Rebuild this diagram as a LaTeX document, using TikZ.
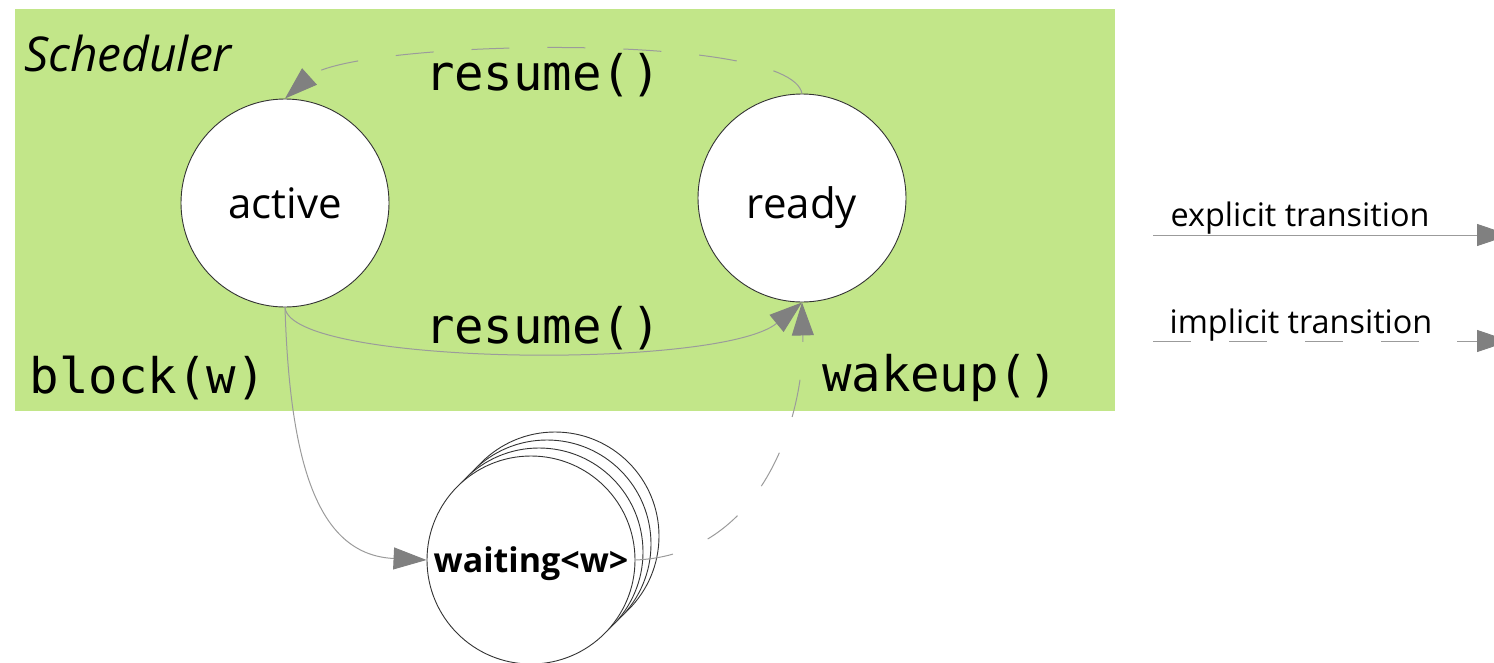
\documentclass[tikz,border=0pt]{standalone}
\usepackage{fontspec}
\setmainfont{Open Sans}
\setmonofont{DejaVu Sans Mono}
\usetikzlibrary{arrows.meta}
\definecolor{schedgreen}{RGB}{194,230,137}
\definecolor{arrowgray}{RGB}{128,128,128}
\definecolor{linegray}{RGB}{155,155,155}
\tikzset{
  state/.style={circle, draw=black!80, line width=0.9pt, fill=white, minimum size=208pt, inner sep=0pt, text depth=0pt, font=\fontsize{42}{46}\selectfont},
  code/.style={font=\ttfamily\fontsize{49}{53}\selectfont, inner sep=0pt},
  legendtext/.style={font=\fontsize{32.4}{36}\selectfont, inner sep=0pt},
  explicit/.style={draw=linegray, line width=1pt, -{Triangle[length=33pt,width=22pt,color=arrowgray]}},
  implicit/.style={explicit, dash pattern=on 38pt off 38pt}
}
\begin{document}
\begin{tikzpicture}[x=1pt,y=-1pt]
\useasboundingbox (0,0) rectangle (1494,662);
% scheduler area
\node (sched) [fill=schedgreen, minimum width=1100pt, minimum height=402pt, inner sep=0pt, anchor=north west] at (15,9) {};
\node (schedlabel) [font=\itshape\fontsize{48}{52}\selectfont, inner sep=0pt] at (128,53) {Scheduler};
% states
\node (active) [state] at (285,203) {active};
\node (ready) [state, text height=40pt] at (802,198) {ready};
\node (w3) [state] at (555,536) {};
\node (w2) [state] at (547,544) {};
\node (w1) [state] at (539,552) {};
\node (waiting) [state, font=\bfseries\fontsize{34}{38}\selectfont] at (531,560) {waiting<w>};
% labels
\node (lresumetop) [code] at (543,75) {resume()};
\node (lresumebot) [code] at (543,328) {resume()};
\node (lblock) [code] at (148,378) {block(w)};
\node (lwakeup) [code] at (940,378) {wakeup()};
% transitions
\draw[implicit] (ready.north) .. controls (790,30) and (350,40) .. (active.north);
\draw[explicit] (active.south) .. controls (290,366) and (720,370) .. (ready.south);
\draw[explicit] (active.south) .. controls (290,470) and (320,555) .. (waiting.west);
\draw[implicit] (waiting.east) .. controls (760,555) and (805,420) .. (ready.south);
% legend
\coordinate (e1) at (1153,235);
\coordinate (e2) at (1510,235);
\coordinate (i1) at (1153,341);
\coordinate (i2) at (1510,341);
\draw[explicit] (e1) -- (e2);
\draw[implicit] (i1) -- (i2);
\node (elabel) [legendtext] at (1300,218) {explicit transition};
\node (ilabel) [legendtext] at (1301,325) {implicit transition};
\end{tikzpicture}
\end{document}
